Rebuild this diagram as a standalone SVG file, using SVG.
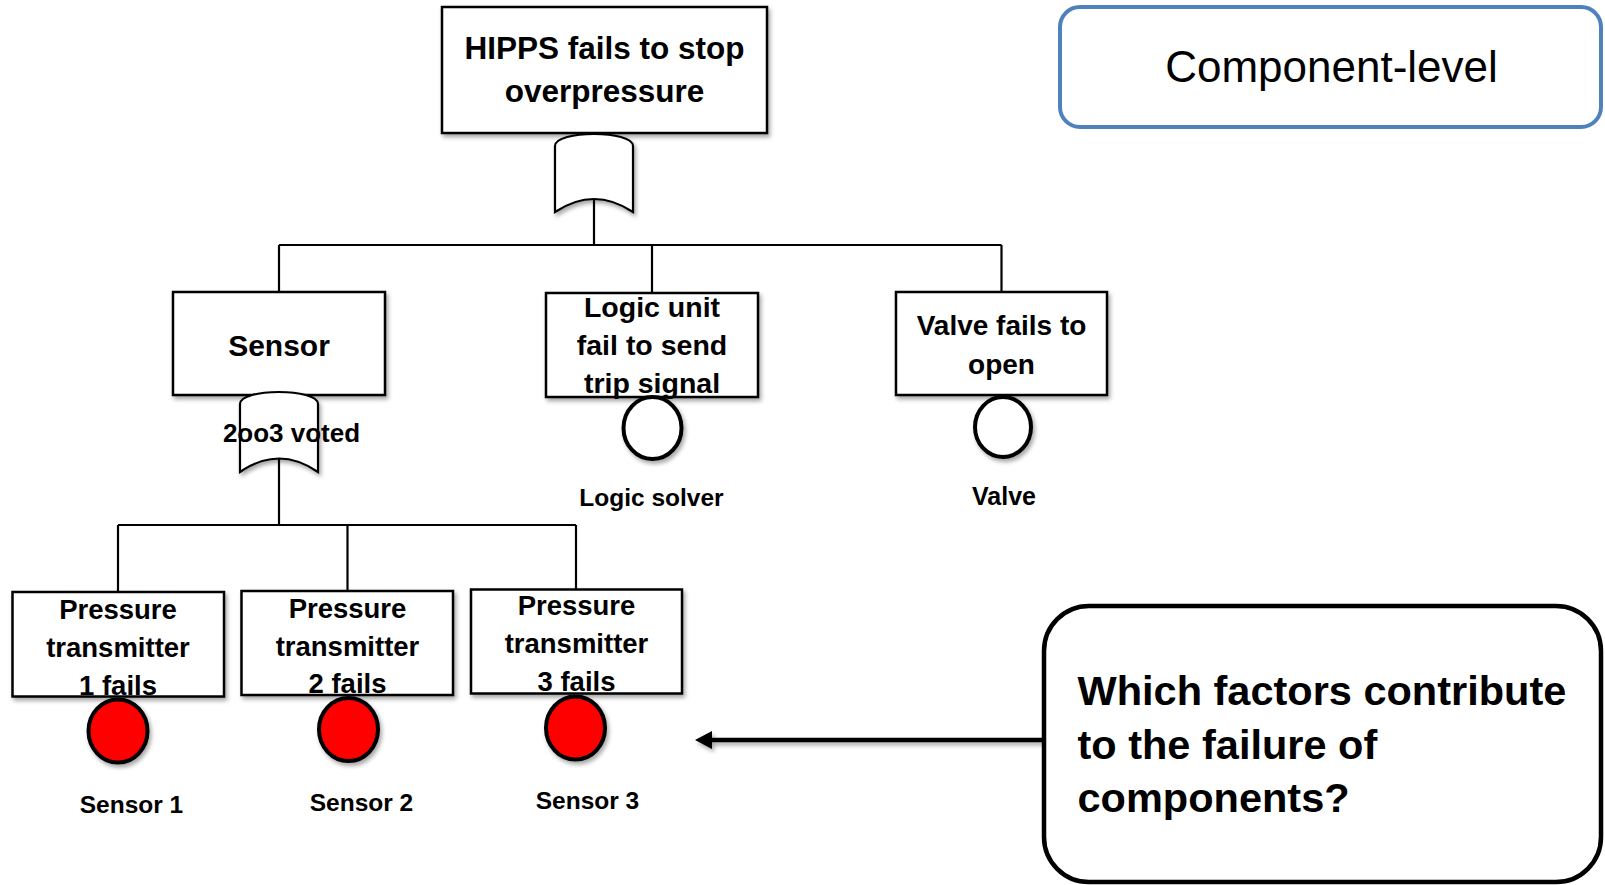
<svg xmlns="http://www.w3.org/2000/svg" width="1605" height="885" viewBox="0 0 1605 885">
  <defs>
    <filter id="shadow" x="-10%" y="-10%" width="130%" height="140%">
      <feDropShadow dx="2" dy="3" stdDeviation="2" flood-color="#000" flood-opacity="0.35"/>
    </filter>
  </defs>
  <style>
    .box { fill: #fff; stroke: #000; stroke-width: 2.5; filter: url(#shadow); }
    .gate { fill: #fff; stroke: #000; stroke-width: 2.2; filter: url(#shadow); }
    .event { fill: #fff; stroke: #000; stroke-width: 4; filter: url(#shadow); }
    .event.red { fill: #ff0000; }
    .wire { fill: none; stroke: #000; stroke-width: 2.2; }
    .t { font-family: "Liberation Sans", Arial, sans-serif; font-weight: bold; fill: #000; text-anchor: middle; }
  </style>
  <rect width="1605" height="885" fill="#fff"/>

  <!-- tree connectors -->
  <g id="connectors">
    <path class="wire" d="M594,199 V245 M279,245 H1001.5 M279,245 V292 M652,245 V293 M1001.5,245 V292"/>
    <path class="wire" d="M279,458 V525 M118,525 H576 M118,525 V592 M347.5,525 V591 M576,525 V589.5"/>
    <g filter="url(#shadow)">
      <line x1="1044" y1="740" x2="710" y2="740" stroke="#000" stroke-width="4.5"/>
      <polygon points="695,740 712,731 712,749" fill="#000"/>
    </g>
  </g>

  <!-- top event -->
  <g id="top-event">
    <rect class="box" x="442" y="7" width="325" height="126"/>
    <text class="t" x="604.5" y="59" font-size="31.5">HIPPS fails to stop</text>
    <text class="t" x="604.5" y="102" font-size="31.5">overpressure</text>
  </g>
  <g id="or-gate-top">
    <path class="gate" d="M555,212 V146 C555,130 633,130 633,146 V212 Q594,186 555,212 Z"/>
  </g>

  <!-- second level -->
  <g id="sensor">
    <rect class="box" x="173" y="292" width="212" height="103"/>
    <text class="t" x="279" y="356" font-size="30">Sensor</text>
  </g>
  <g id="vote-gate">
    <path class="gate" d="M240,472 V404 C240,388 318,388 318,404 V472 Q279,445 240,472 Z"/>
    <text class="t" x="291.5" y="442" font-size="26">2oo3 voted</text>
  </g>

  <g id="logic-unit">
    <rect class="box" x="546" y="293" width="212" height="104"/>
    <text class="t" x="652" y="317" font-size="28.5">Logic unit</text>
    <text class="t" x="652" y="355" font-size="28.5">fail to send</text>
    <text class="t" x="652" y="393" font-size="28.5">trip signal</text>
  </g>
  <g id="logic-solver">
    <ellipse class="event" cx="652.5" cy="428" rx="29" ry="31"/>
    <text class="t" x="651.5" y="506" font-size="24.5">Logic solver</text>
  </g>

  <g id="valve-fails">
    <rect class="box" x="896" y="292" width="211" height="103"/>
    <text class="t" x="1001.5" y="335" font-size="28">Valve fails to</text>
    <text class="t" x="1001.5" y="374" font-size="28">open</text>
  </g>
  <g id="valve">
    <ellipse class="event" cx="1003" cy="427" rx="28" ry="30"/>
    <text class="t" x="1004" y="505" font-size="25">Valve</text>
  </g>

  <!-- pressure transmitters -->
  <g id="pt1">
    <rect class="box" x="12.5" y="592" width="211.5" height="104.5"/>
    <text class="t" x="118" y="619" font-size="27.5">Pressure</text>
    <text class="t" x="118" y="657" font-size="27.5">transmitter</text>
    <text class="t" x="118" y="695" font-size="27.5">1 fails</text>
  </g>
  <g id="sensor1">
    <ellipse class="event red" cx="118" cy="731" rx="29.5" ry="31.5"/>
    <text class="t" x="131.5" y="813" font-size="24.5">Sensor 1</text>
  </g>

  <g id="pt2">
    <rect class="box" x="241.5" y="591" width="211.5" height="104"/>
    <text class="t" x="347.5" y="617.5" font-size="27.5">Pressure</text>
    <text class="t" x="347.5" y="655.5" font-size="27.5">transmitter</text>
    <text class="t" x="347.5" y="693" font-size="27.5">2 fails</text>
  </g>
  <g id="sensor2">
    <ellipse class="event red" cx="348.5" cy="729.5" rx="29.5" ry="31.5"/>
    <text class="t" x="361.5" y="811" font-size="24.5">Sensor 2</text>
  </g>

  <g id="pt3">
    <rect class="box" x="471" y="589.5" width="211" height="104"/>
    <text class="t" x="576.5" y="615" font-size="27.5">Pressure</text>
    <text class="t" x="576.5" y="653" font-size="27.5">transmitter</text>
    <text class="t" x="576.5" y="691" font-size="27.5">3 fails</text>
  </g>
  <g id="sensor3">
    <ellipse class="event red" cx="575.5" cy="728" rx="29.5" ry="31.5"/>
    <text class="t" x="587.5" y="808.5" font-size="24.5">Sensor 3</text>
  </g>

  <!-- side notes -->
  <g id="level-label">
    <rect x="1060" y="7" width="541" height="120" rx="20" ry="20" fill="#fff" stroke="#4f81bd" stroke-width="4"/>
    <text x="1331.5" y="82" font-family="'Liberation Sans', Arial, sans-serif" font-size="44" text-anchor="middle" fill="#000">Component-level</text>
  </g>
  <g id="question">
    <rect x="1044" y="606" width="557" height="276" rx="45" ry="45" fill="#fff" stroke="#000" stroke-width="4.5"/>
    <text class="t" style="text-anchor:start" x="1077.5" y="705" font-size="41.5">Which factors contribute</text>
    <text class="t" style="text-anchor:start" x="1077.5" y="759" font-size="41.5">to the failure of</text>
    <text class="t" style="text-anchor:start" x="1077.5" y="812" font-size="41.5">components?</text>
  </g>
</svg>
